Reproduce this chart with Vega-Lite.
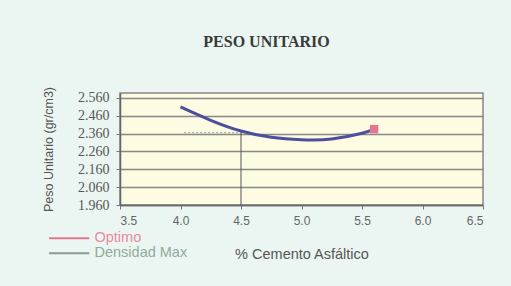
{
  "$schema": "https://vega.github.io/schema/vega-lite/v6.json",
  "autosize": "none",
  "width": 363,
  "height": 112,
  "padding": {"left": 120, "top": 93, "right": 28, "bottom": 81},
  "background": "#ebf6f2",
  "title": {
    "text": "PESO UNITARIO",
    "font": "Liberation Serif",
    "fontSize": 16,
    "fontWeight": "bold",
    "color": "#3a3a3a",
    "anchor": "middle",
    "dx": -35,
    "offset": 36
  },
  "data": {
    "values": [
      {"x": 4.0, "y": 2.51, "serie": "curva"},
      {"x": 4.25, "y": 2.435, "serie": "curva"},
      {"x": 4.5, "y": 2.375, "serie": "curva"},
      {"x": 4.75, "y": 2.34, "serie": "curva"},
      {"x": 5.0, "y": 2.326, "serie": "curva"},
      {"x": 5.25, "y": 2.33, "serie": "curva"},
      {"x": 5.5, "y": 2.362, "serie": "curva"},
      {"x": 5.6, "y": 2.385, "serie": "curva"},
      {"x": 5.6, "y": 2.385, "serie": "Optimo"},
      {"x": 4.03, "y": 2.365, "serie": "Densidad Max"},
      {"x": 4.5, "y": 2.365, "serie": "Densidad Max"},
      {"x": 4.5, "y": 1.96, "serie": "vertical"},
      {"x": 4.5, "y": 2.37, "serie": "vertical"}
    ]
  },
  "encoding": {
    "x": {
      "field": "x", "type": "quantitative",
      "scale": {"domain": [3.5, 6.5], "nice": false, "zero": false},
      "axis": {
        "values": [3.5, 4.0, 4.5, 5.0, 5.5, 6.0, 6.5],
        "format": ".1f",
        "grid": false,
        "title": "% Cemento Asfáltico",
        "titleFont": "Liberation Sans", "titleFontSize": 14.5, "titleFontWeight": "normal", "titleColor": "#555555",
        "titlePadding": 21,
        "labelFont": "Liberation Sans", "labelFontSize": 12, "labelColor": "#666666",
        "labelPadding": 6,
        "tickColor": "#777777", "tickSize": 4,
        "domainColor": "#666666", "domainWidth": 1.5
      }
    },
    "y": {
      "field": "y", "type": "quantitative",
      "scale": {"domain": [1.96, 2.588], "nice": false, "zero": false},
      "axis": {
        "values": [1.96, 2.06, 2.16, 2.26, 2.36, 2.46, 2.56],
        "format": ".3f",
        "title": "Peso Unitario (gr/cm3)",
        "titleFont": "Liberation Sans", "titleFontSize": 12.5, "titleFontWeight": "normal", "titleColor": "#555555",
        "titlePadding": 22,
        "labelFont": "Liberation Serif", "labelFontSize": 14, "labelColor": "#555555",
        "labelPadding": 7,
        "tickColor": "#777777", "tickSize": 4,
        "grid": true, "gridColor": "#888888", "gridWidth": 1.5,
        "domainColor": "#666666", "domainWidth": 1.5
      }
    }
  },
  "layer": [
    {
      "transform": [{"filter": "datum.serie == 'vertical'"}],
      "mark": {"type": "line", "color": "#555555", "strokeWidth": 1},
      "encoding": {}
    },
    {
      "transform": [{"filter": "datum.serie == 'Densidad Max'"}],
      "mark": {"type": "line", "strokeWidth": 1, "strokeDash": [2, 2]},
      "encoding": {
        "color": {
          "field": "serie", "type": "nominal",
          "scale": {"domain": ["Optimo", "Densidad Max"], "range": ["#e5748f", "#8c9a93"]},
          "legend": {
            "orient": "none", "legendX": -44, "legendY": 138,
            "title": null,
            "symbolType": "M-5.7,0H1", "symbolSize": 144, "symbolStrokeWidth": 2,
            "symbolFillColor": "transparent",
            "labelFont": "Liberation Sans", "labelFontSize": 14.5,
            "labelOffset": 4, "rowPadding": 0,
            "symbolDash": [],
            "encode": {
              "labels": {"update": {"fill": {"signal": "datum.label == 'Optimo' ? '#e98aa0' : '#93aa9c'"}}}
            }
          }
        }
      }
    },
    {
      "transform": [{"filter": "datum.serie == 'curva'"}],
      "mark": {"type": "line", "color": "#4d4f9c", "strokeWidth": 3, "interpolate": "natural"},
      "encoding": {}
    },
    {
      "transform": [{"filter": "datum.serie == 'Optimo'"}],
      "mark": {"type": "square", "size": 70, "filled": true, "opacity": 1},
      "encoding": {
        "color": {"field": "serie", "type": "nominal", "legend": null}
      }
    }
  ],
  "config": {
    "view": {"fill": "#fdfbe2", "stroke": "#888888", "strokeWidth": 1.5}
  }
}
